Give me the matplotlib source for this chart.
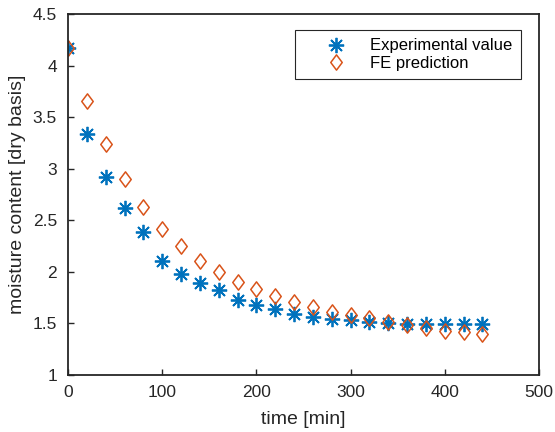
import numpy as np
import matplotlib
matplotlib.use("Agg")
import matplotlib.pyplot as plt
from matplotlib.path import Path

# time points [min]
time_min = [0, 20, 40, 60, 80, 100, 120, 140, 160, 180, 200, 220,
            240, 260, 280, 300, 320, 340, 360, 380, 400, 420, 440]

# measured moisture content
experimental = [4.17, 3.34, 2.92, 2.62, 2.39, 2.11, 1.98, 1.89, 1.82, 1.73,
                1.68, 1.64, 1.59, 1.56, 1.54, 1.53, 1.51, 1.50, 1.49, 1.49,
                1.49, 1.49, 1.49]

# finite element prediction
fe_prediction = [4.17, 3.66, 3.24, 2.90, 2.63, 2.42, 2.25, 2.11, 2.00, 1.90,
                 1.83, 1.77, 1.71, 1.66, 1.61, 1.58, 1.55, 1.51, 1.48, 1.46,
                 1.43, 1.42, 1.40]

blue = "#0072BD"
orange = "#D95319"
dark = "#262626"

plt.rcParams["font.family"] = ["Liberation Sans", "DejaVu Sans"]

diamond = Path([(0, 1), (0.75, 0), (0, -1), (-0.75, 0), (0, 1)],
               [Path.MOVETO, Path.LINETO, Path.LINETO, Path.LINETO, Path.CLOSEPOLY])

fig = plt.figure(figsize=(5.55, 4.32), dpi=100)
ax = fig.add_axes([68 / 555, 1 - 375 / 432, (539 - 68) / 555, (375 - 14) / 432])

ax.plot(time_min, experimental, linestyle="none", marker=(8, 2, 0),
        markersize=11, markeredgewidth=1.3, color=blue, label="Experimental value")
ax.plot(time_min, fe_prediction, linestyle="none", marker=diamond,
        markersize=11, markeredgewidth=1.1, markerfacecolor="none",
        markeredgecolor=orange, label="FE prediction")

ax.set_xlim(0, 500)
ax.set_ylim(1, 4.5)
ax.set_xticks([0, 100, 200, 300, 400, 500])
ax.set_yticks([1, 1.5, 2, 2.5, 3, 3.5, 4, 4.5])
ax.set_yticklabels(["1", "1.5", "2", "2.5", "3", "3.5", "4", "4.5"])
ax.tick_params(direction="in", length=4, width=1, labelsize=12.5,
               colors=dark, top=False, right=False)
ax.tick_params(axis="x", pad=7)
ax.tick_params(axis="y", pad=8)
for s in ax.spines.values():
    s.set_linewidth(1.3)
    s.set_color(dark)

ax.set_xlabel("time [min]", fontsize=14, color=dark)
ax.set_ylabel("moisture content [dry basis]", fontsize=14, color=dark)
ax.xaxis.label.set_va("center")
ax.yaxis.label.set_va("center")
ax.xaxis.set_label_coords(0.5, (375 - 420) / 361)
ax.yaxis.set_label_coords((18 - 68) / 471, 0.5)

leg = ax.legend(loc="upper right", bbox_to_anchor=(521 / 555, 1 - 30 / 432),
                bbox_transform=fig.transFigure, fontsize=12, fancybox=False,
                edgecolor=dark, framealpha=1, borderpad=0.5, borderaxespad=0,
                handlelength=3.9, handletextpad=0.1, labelspacing=0.15)
leg.get_frame().set_linewidth(0.8)

fig.savefig("out.png", dpi=100)
